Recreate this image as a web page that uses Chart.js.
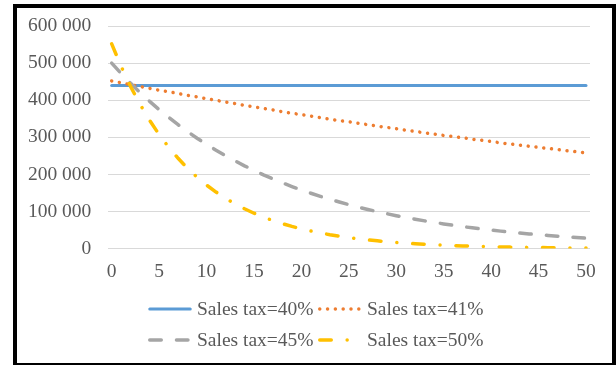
<!DOCTYPE html>
<html>
<head>
<meta charset="utf-8">
<script src="https://cdn.jsdelivr.net/npm/chart.js@4.4.1/dist/chart.umd.min.js"></script>
<style>
  html, body { margin: 0; padding: 0; background: #fff; }
  body {
    width: 616px; height: 365px; position: relative; overflow: hidden;
    font-family: "Liberation Serif", "Times New Roman", serif;
  }
  #frame {
    position: absolute; left: 13px; top: 4px; width: 603px; height: 363px;
    border: 4px solid #000; box-sizing: border-box; pointer-events: none;
  }
  #plot { position: absolute; left: 0; top: 0; width: 616px; height: 296px; }
  #legend {
    position: absolute; left: 148px; top: 293px;
    display: grid; grid-template-columns: 170px 170px; grid-auto-rows: 31px;
  }
  .leg-item { display: flex; align-items: center; gap: 5px; }
  .leg-item span { font-size: 19.5px; line-height: 1; color: #595959; white-space: nowrap; }
</style>
</head>
<body>
<div id="plot"><canvas id="chart"></canvas></div>
<div id="legend"></div>
<div id="frame"></div>
<script>
'use strict';

/* Years after the change, 0..50 */
const years = [
  0, 1, 2, 3, 4, 5, 6, 7, 8, 9, 10, 11, 12, 13, 14, 15, 16, 17, 18, 19, 20,
  21, 22, 23, 24, 25, 26, 27, 28, 29, 30, 31, 32, 33, 34, 35, 36, 37, 38, 39, 40,
  41, 42, 43, 44, 45, 46, 47, 48, 49, 50
];

const tax40 = [
  440000, 440000, 440000, 440000, 440000, 440000, 440000, 440000, 440000, 440000, 440000,
  440000, 440000, 440000, 440000, 440000, 440000, 440000, 440000, 440000, 440000,
  440000, 440000, 440000, 440000, 440000, 440000, 440000, 440000, 440000, 440000,
  440000, 440000, 440000, 440000, 440000, 440000, 440000, 440000, 440000, 440000,
  440000, 440000, 440000, 440000, 440000, 440000, 440000, 440000, 440000, 440000
];

const tax41 = [
  452000, 447000, 442000, 437000, 432000, 427000, 423000, 418000, 413000, 409000, 404000,
  400000, 395000, 391000, 386000, 382000, 378000, 374000, 369000, 365000, 361000,
  357000, 353000, 349000, 345000, 342000, 338000, 334000, 330000, 327000, 323000,
  319000, 316000, 312000, 309000, 305000, 302000, 299000, 295000, 292000, 289000,
  285000, 282000, 279000, 276000, 273000, 270000, 267000, 264000, 261000, 258000
];

const tax45 = [
  500000, 472000, 445600, 420600, 397100, 374900, 353900, 334100, 315400, 297700, 281100,
  265300, 250500, 236500, 223200, 210700, 198900, 187800, 177300, 167400, 158000,
  149200, 140800, 132900, 125500, 118500, 111800, 105600, 99700, 94100, 88800,
  83800, 79100, 74700, 70500, 66600, 62900, 59300, 56000, 52900, 49900,
  47100, 44500, 42000, 39600, 37400, 35300, 33400, 31500, 29700, 28100
];

const tax50 = [
  552000, 491000, 436800, 388600, 345700, 307500, 273600, 243400, 216500, 192600, 171300,
  152400, 135600, 120600, 107300, 95400, 84900, 75500, 67200, 59800, 53200,
  47300, 42100, 37400, 33300, 29600, 26400, 23400, 20900, 18600, 16500,
  14700, 13100, 11600, 10300, 9200, 8200, 7300, 6500, 5700, 5100,
  4500, 4000, 3600, 3200, 2800, 2500, 2300, 2000, 1800, 1600
];

const yTicks = [0, 100000, 200000, 300000, 400000, 500000, 600000];

const TEXT = '#595959';
const GRID = '#d9d9d9';
const FONT = '"Liberation Serif", "Times New Roman", serif';

/* label, values, colour, width, dash pattern; lower order is drawn on top */
const series = [
  { label: 'Sales tax=40%', values: tax40, color: '#5b9bd5', width: 3,   dash: [],                       order: 3 },
  { label: 'Sales tax=41%', values: tax41, color: '#ed7d31', width: 3.5, dash: [0.01, 7.8],              order: 2 },
  { label: 'Sales tax=45%', values: tax45, color: '#a5a5a5', width: 3.5, dash: [11.5, 15.2],             order: 1 },
  { label: 'Sales tax=50%', values: tax50, color: '#ffc000', width: 3.5, dash: [11.5, 15.9, 0.01, 15.9], order: 0 },
];

function spaced(v) {
  return String(v).replace(/\B(?=(\d{3})+(?!\d))/g, ' ');
}

new Chart(document.getElementById('chart'), {
  type: 'line',
  data: {
    datasets: series.map(s => ({
      label: s.label,
      data: years.map((x, i) => ({ x, y: s.values[i] })),
      borderColor: s.color,
      borderWidth: s.width,
      borderDash: s.dash,
      borderCapStyle: 'round',
      pointRadius: 0,
      tension: 0,
      fill: false,
      order: s.order,
    })),
  },
  options: {
    responsive: true,
    maintainAspectRatio: false,
    animation: false,
    layout: { padding: { left: 10.9, right: 26, top: 20, bottom: 0 } },
    plugins: { legend: { display: false }, tooltip: { enabled: false } },
    scales: {
      x: {
        type: 'linear',
        min: -0.36,
        max: 50.42,
        grid: { display: false, drawTicks: false },
        border: { display: false },
        ticks: {
          stepSize: 5, includeBounds: false, padding: 12,
          color: TEXT, font: { family: FONT, size: 19.5 },
        },
      },
      y: {
        min: 0,
        max: 600000,
        grid: { color: GRID, drawTicks: false },
        border: { display: false },
        afterBuildTicks: axis => { axis.ticks = yTicks.map(value => ({ value })); },
        ticks: {
          padding: 17, color: TEXT, font: { family: FONT, size: 19.5, lineHeight: 0.93 },
          callback: v => spaced(v),
        },
      },
    },
  },
});

/* Legend: two rows of line samples with labels */
const NS = 'http://www.w3.org/2000/svg';
document.getElementById('legend').append(...series.map(s => {
  const item = document.createElement('div');
  item.className = 'leg-item';
  const svg = document.createElementNS(NS, 'svg');
  svg.setAttribute('width', 44);
  svg.setAttribute('height', 6);
  const line = document.createElementNS(NS, 'line');
  line.setAttribute('x1', 1.75);
  line.setAttribute('x2', 42.25);
  line.setAttribute('y1', 3);
  line.setAttribute('y2', 3);
  line.setAttribute('stroke', s.color);
  line.setAttribute('stroke-width', s.width);
  line.setAttribute('stroke-linecap', 'round');
  if (s.dash.length) line.setAttribute('stroke-dasharray', s.dash.join(' '));
  svg.appendChild(line);
  const text = document.createElement('span');
  text.textContent = s.label;
  item.append(svg, text);
  return item;
}));
</script>
</body>
</html>
